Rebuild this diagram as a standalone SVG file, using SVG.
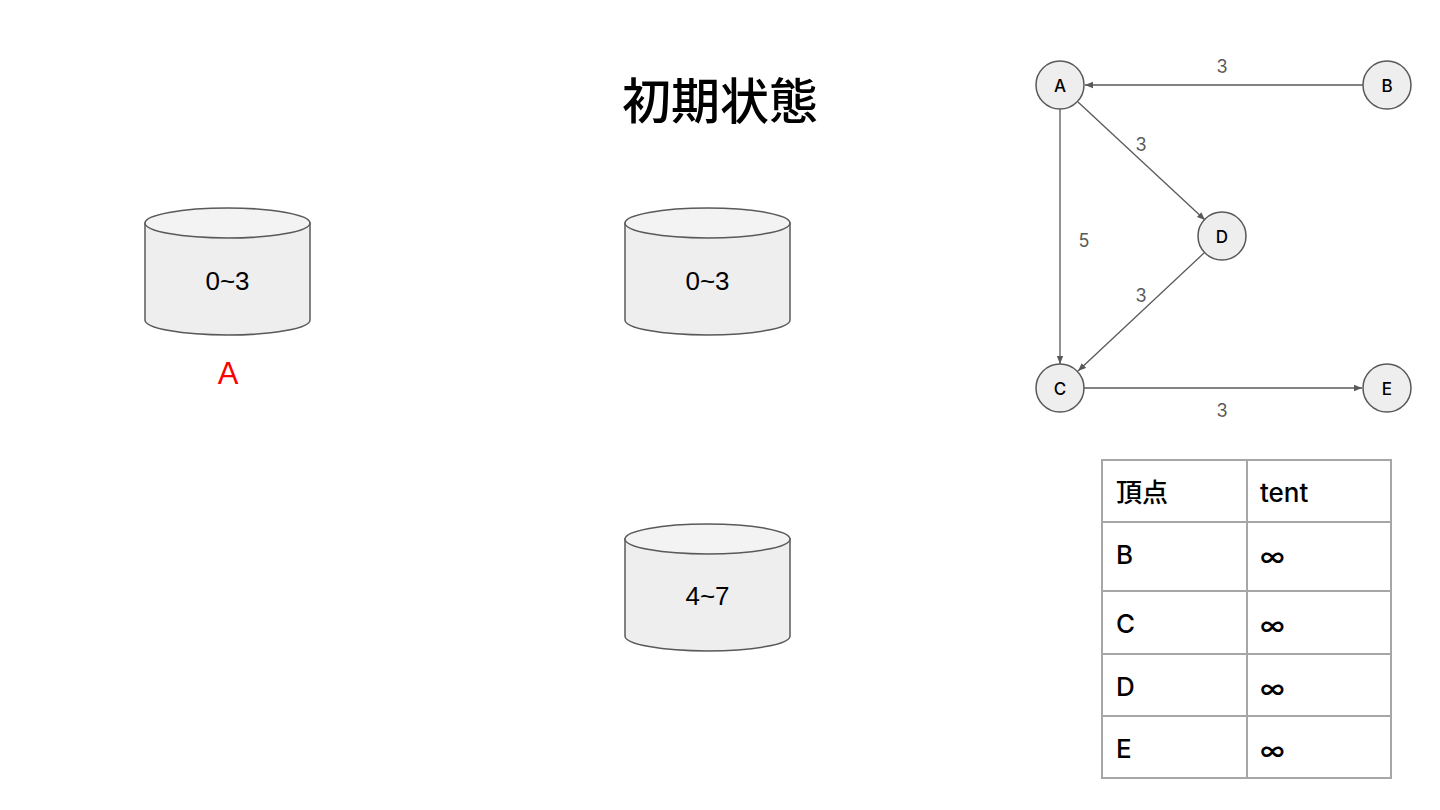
<svg xmlns="http://www.w3.org/2000/svg" width="1440" height="810" viewBox="0 0 1440 810">
<defs>
<marker id="arr" viewBox="0 0 10 10" refX="10" refY="5" markerWidth="8" markerHeight="8" markerUnits="userSpaceOnUse" orient="auto">
<path d="M0,1 L10,5 L0,9 Z" fill="#595959"/>
</marker>
<style>
.cyl-body{fill:#eeeeee;stroke:#595959;stroke-width:1.5}
.cyl-top{fill:#f3f3f3;stroke:#595959;stroke-width:1.5}
.cyl-txt{font-family:"Liberation Sans",Arial,sans-serif;font-size:26px;fill:#000;text-anchor:middle;dominant-baseline:central}
.node{fill:#eeeeee;stroke:#595959;stroke-width:1.5}
.ntxt{font-family:Inter,"Noto Sans",sans-serif;font-size:17px;font-weight:500;fill:#000;text-anchor:middle;dominant-baseline:central}
.edge{stroke:#595959;stroke-width:1.3;fill:none;marker-end:url(#arr)}
.elbl{font-family:Inter,"Noto Sans",sans-serif;font-size:18px;fill:#595959;text-anchor:middle;dominant-baseline:central}
.cell{fill:none;stroke:#a6a6a6;stroke-width:2}
.ttxt{font-family:Inter,"Noto Sans","Noto Sans CJK JP",sans-serif;font-size:26px;font-weight:500;fill:#000;dominant-baseline:central}
</style>
</defs>
<rect width="1440" height="810" fill="#fff"/>
<text x="720" y="97" font-family="'Noto Sans CJK JP',sans-serif" font-size="49" font-weight="500" text-anchor="middle" dominant-baseline="central" fill="#000">初期状態</text>

<g id="cyl1">
<path class="cyl-body" d="M145,223 L145,320 A82.5,15 0 0 0 310,320 L310,223 Z"/>
<ellipse class="cyl-top" cx="227.5" cy="223" rx="82.5" ry="15"/>
<text class="cyl-txt" x="227.5" y="281">0~3</text>
</g>
<text x="228" y="373" font-family="'Liberation Sans',Arial,sans-serif" font-size="31" fill="#ff0000" text-anchor="middle" dominant-baseline="central">A</text>

<g id="cyl2">
<path class="cyl-body" d="M625,223 L625,320 A82.5,15 0 0 0 790,320 L790,223 Z"/>
<ellipse class="cyl-top" cx="707.5" cy="223" rx="82.5" ry="15"/>
<text class="cyl-txt" x="707.5" y="281">0~3</text>
</g>

<g id="cyl3">
<path class="cyl-body" d="M625,539 L625,636 A82.5,15 0 0 0 790,636 L790,539 Z"/>
<ellipse class="cyl-top" cx="707.5" cy="539" rx="82.5" ry="15"/>
<text class="cyl-txt" x="707.5" y="596">4~7</text>
</g>

<g id="connectors">
<line class="edge" x1="1363" y1="85" x2="1085" y2="85"/>
<line class="edge" x1="1078" y1="102" x2="1205" y2="220"/>
<line class="edge" x1="1060" y1="109" x2="1060" y2="364"/>
<line class="edge" x1="1204" y1="253" x2="1078" y2="371"/>
<line class="edge" x1="1084" y1="388" x2="1362" y2="388"/>
<text class="elbl" x="1222" y="66">3</text>
<text class="elbl" x="1141" y="144">3</text>
<text class="elbl" x="1084" y="240">5</text>
<text class="elbl" x="1141" y="295">3</text>
<text class="elbl" x="1222" y="410">3</text>
</g>

<g id="nodeA"><circle class="node" cx="1060" cy="85" r="24"/><text class="ntxt" x="1060" y="86">A</text></g>
<g id="nodeB"><circle class="node" cx="1387" cy="85" r="24"/><text class="ntxt" x="1387" y="86">B</text></g>
<g id="nodeD"><circle class="node" cx="1222" cy="236" r="24"/><text class="ntxt" x="1222" y="237">D</text></g>
<g id="nodeC"><circle class="node" cx="1060" cy="388" r="24"/><text class="ntxt" x="1060" y="389">C</text></g>
<g id="nodeE"><circle class="node" cx="1387" cy="388" r="24"/><text class="ntxt" x="1387" y="389">E</text></g>

<g id="table">
<rect class="cell" x="1102" y="460" width="289" height="318"/>
<line class="cell" x1="1247" y1="460" x2="1247" y2="778"/>
<line class="cell" x1="1102" y1="522" x2="1391" y2="522"/>
<line class="cell" x1="1102" y1="591" x2="1391" y2="591"/>
<line class="cell" x1="1102" y1="654" x2="1391" y2="654"/>
<line class="cell" x1="1102" y1="716" x2="1391" y2="716"/>
<text class="ttxt" x="1116" y="492">頂点</text>
<text class="ttxt" x="1260" y="492">tent</text>
<text class="ttxt" x="1116" y="554">B</text>
<text class="ttxt" x="1260" y="556">∞</text>
<text class="ttxt" x="1116" y="623">C</text>
<text class="ttxt" x="1260" y="625">∞</text>
<text class="ttxt" x="1116" y="686">D</text>
<text class="ttxt" x="1260" y="688">∞</text>
<text class="ttxt" x="1116" y="748">E</text>
<text class="ttxt" x="1260" y="750">∞</text>
</g>
</svg>
